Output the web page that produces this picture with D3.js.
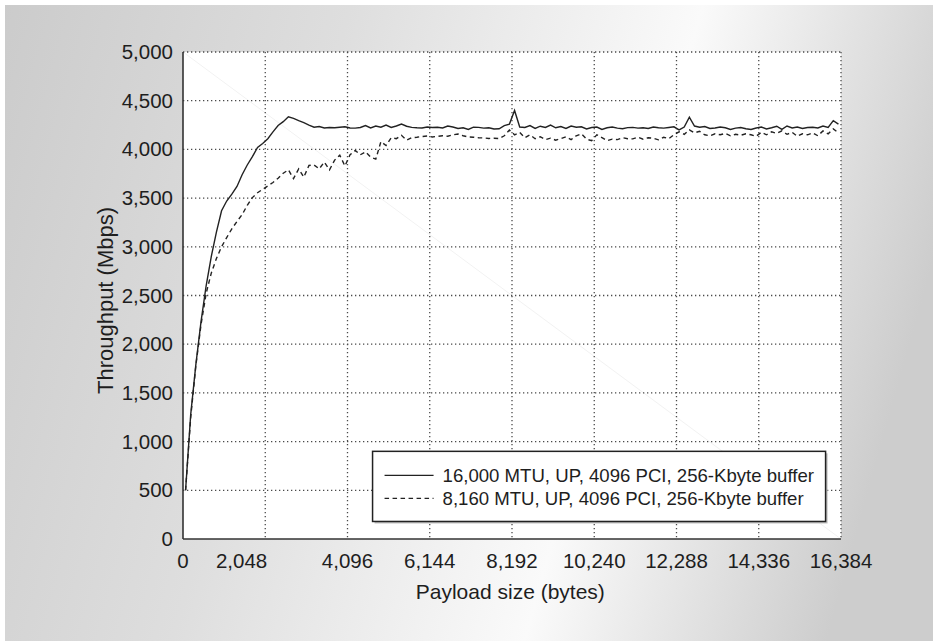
<!DOCTYPE html>
<html>
<head>
<meta charset="utf-8">
<script src="https://cdn.jsdelivr.net/npm/d3@7"></script>
<style>
    html, body { margin: 0; padding: 0; background: #fff; }
    #chart-area { width: 933px; height: 641px; }
    text { font-family: "Liberation Sans", Arial, sans-serif; fill: #1e1e1e; }
</style>
</head>
<body>
<div id="chart-area"></div>
<script>

// payload sizes (bytes) sampled every 128 bytes
let payload = d3.range(64, 16385, 128);

// 16,000 MTU series (Mbps)
let mtu16000 = [500, 1280, 1790, 2230, 2600, 2900, 3150, 3370, 3470, 3540,
    3620, 3740, 3840, 3925, 4020, 4060, 4110, 4180, 4245, 4285,
    4335, 4318, 4295, 4275, 4250, 4228, 4235, 4220, 4225, 4222,
    4228, 4232, 4220, 4218, 4225, 4245, 4220, 4240, 4228, 4250,
    4225, 4240, 4260, 4238, 4226, 4222, 4220, 4230, 4225, 4228,
    4220, 4240, 4230, 4215, 4222, 4205, 4228, 4226, 4218, 4222,
    4210, 4212, 4245, 4260, 4400, 4230, 4225, 4245, 4215, 4238,
    4225, 4250, 4222, 4235, 4215, 4240, 4228, 4232, 4210, 4225,
    4230, 4205, 4222, 4230, 4218, 4212, 4224, 4226, 4218, 4222,
    4215, 4230, 4222, 4218, 4225, 4232, 4200, 4230, 4330, 4240,
    4228, 4235, 4215, 4220, 4230, 4222, 4205, 4218, 4225, 4212,
    4205, 4220, 4230, 4210, 4222, 4238, 4205, 4240, 4220, 4230,
    4215, 4225, 4228, 4220, 4240, 4225, 4295, 4260];

// 8,160 MTU series (Mbps)
let mtu8160 = [500, 1250, 1780, 2200, 2520, 2730, 2880, 3000, 3095, 3185,
    3260, 3330, 3425, 3505, 3555, 3590, 3625, 3660, 3704, 3755,
    3790, 3700, 3800, 3715, 3835, 3840, 3800, 3870, 3790, 3890,
    3940, 3830, 3945, 3990, 3945, 3975, 3920, 3900, 4080, 4040,
    4120, 4110, 4145, 4095, 4120, 4125, 4132, 4137, 4128, 4134,
    4140, 4135, 4150, 4158, 4140, 4128, 4125, 4120, 4118, 4112,
    4115, 4112, 4140, 4200, 4150, 4175, 4120, 4150, 4110, 4130,
    4100, 4115, 4095, 4110, 4130, 4100, 4140, 4160, 4105, 4090,
    4150, 4120, 4090, 4105, 4100, 4120, 4110, 4108, 4125, 4105,
    4120, 4115, 4098, 4125, 4110, 4150, 4180, 4155, 4200, 4170,
    4185, 4150, 4140, 4160, 4150, 4165, 4140, 4155, 4145, 4160,
    4150, 4135, 4175, 4150, 4180, 4165, 4190, 4155, 4175, 4135,
    4160, 4150, 4170, 4140, 4190, 4160, 4210, 4170];

let seriesNames = ["16,000 MTU, UP, 4096 PCI, 256-Kbyte buffer",
    "8,160 MTU, UP, 4096 PCI, 256-Kbyte buffer"];

let xTicks = [0, 2048, 4096, 6144, 8192, 10240, 12288, 14336, 16384];
// where each x tick label sits (the 2,048 label is printed left of its gridline)
let xTickLabelAt = [0, 1460, 4096, 6144, 8192, 10240, 12288, 14336, 16384];
let yTicks = [0, 500, 1000, 1500, 2000, 2500, 3000, 3500, 4000, 4500, 5000];


class ThroughputVis {

    constructor(parentElement) {
        this.parentElement = parentElement;
        this.initVis();
    }

    initVis() {
        let vis = this;

        vis.W = 933;
        vis.H = 641;
        vis.margin = {top: 52, right: 92, bottom: 102, left: 183};
        vis.width = vis.W - vis.margin.left - vis.margin.right;
        vis.height = vis.H - vis.margin.top - vis.margin.bottom;

        vis.svg = d3.select("#" + vis.parentElement).append("svg")
            .attr("width", vis.W)
            .attr("height", vis.H);

        // grey background gradient
        let grad = vis.svg.append("defs").append("linearGradient")
            .attr("id", "bgGrad")
            .attr("gradientUnits", "userSpaceOnUse")
            .attr("x1", 0).attr("y1", 0)
            .attr("x2", 933).attr("y2", 262);
        grad.append("stop").attr("offset", 0).attr("stop-color", "#cbcbcb");
        grad.append("stop").attr("offset", 0.35).attr("stop-color", "#dedede");
        grad.append("stop").attr("offset", 0.7).attr("stop-color", "#fafafa");
        grad.append("stop").attr("offset", 1).attr("stop-color", "#cdcdcd");

        vis.svg.append("rect")
            .attr("x", 5).attr("y", 5)
            .attr("width", vis.W - 5).attr("height", vis.H - 5)
            .attr("fill", "url(#bgGrad)");

        vis.g = vis.svg.append("g")
            .attr("transform", `translate(${vis.margin.left}, ${vis.margin.top})`);

        vis.g.append("rect")
            .attr("width", vis.width)
            .attr("height", vis.height)
            .attr("fill", "#fff");

        vis.xScale = d3.scaleLinear().domain([0, 16384]).range([0, vis.width]);
        vis.yScale = d3.scaleLinear().domain([0, 5000]).range([vis.height, 0]);

        vis.updateVis();
    }

    updateVis() {
        let vis = this;

        // faint diagonal streak across the plot
        vis.g.append("line")
            .attr("x1", vis.xScale(0)).attr("y1", vis.yScale(5000))
            .attr("x2", vis.xScale(16384)).attr("y2", vis.yScale(0))
            .attr("stroke", "#f2f2f2")
            .attr("stroke-width", 1);

        // dotted grid
        vis.g.selectAll(".hgrid")
            .data(yTicks.slice(1))
            .enter().append("line")
            .attr("class", "hgrid")
            .attr("x1", 0).attr("x2", vis.width)
            .attr("y1", d => vis.yScale(d)).attr("y2", d => vis.yScale(d))
            .attr("stroke", "#4a4a4a")
            .attr("stroke-width", 1.3)
            .attr("stroke-dasharray", "1.3,2.7");

        vis.g.selectAll(".vgrid")
            .data(xTicks.slice(1))
            .enter().append("line")
            .attr("class", "vgrid")
            .attr("y1", 0).attr("y2", vis.height)
            .attr("x1", d => vis.xScale(d)).attr("x2", d => vis.xScale(d))
            .attr("stroke", "#4a4a4a")
            .attr("stroke-width", 1.3)
            .attr("stroke-dasharray", "1.3,2.7");

        // lines
        let line = d3.line()
            .x((d, i) => vis.xScale(payload[i]))
            .y(d => vis.yScale(d));

        vis.g.append("path")
            .datum(mtu8160)
            .attr("d", line)
            .attr("fill", "none")
            .attr("stroke", "#222")
            .attr("stroke-width", 1.4)
            .attr("stroke-dasharray", "4.5,3.5");

        vis.g.append("path")
            .datum(mtu16000)
            .attr("d", line)
            .attr("fill", "none")
            .attr("stroke", "#222")
            .attr("stroke-width", 1.4);

        // axes (left and bottom solid)
        vis.yAxis = d3.axisLeft(vis.yScale)
            .tickValues(yTicks)
            .tickSize(0)
            .tickPadding(10)
            .tickFormat(d3.format(","));

        vis.g.append("g")
            .attr("class", "y-axis axis")
            .call(vis.yAxis)
            .call(g => g.selectAll("text").style("font-size", "20.5px").attr("fill", "#1e1e1e"));

        vis.g.selectAll(".xlab")
            .data(xTicks)
            .enter().append("text")
            .attr("class", "xlab")
            .attr("x", (d, i) => vis.xScale(xTickLabelAt[i]))
            .attr("y", vis.height + 29)
            .attr("text-anchor", "middle")
            .style("font-size", "20.5px")
            .text(d => d3.format(",")(d));

        vis.g.selectAll(".domain").remove();

        vis.g.append("line")
            .attr("x1", 0).attr("x2", 0)
            .attr("y1", 0).attr("y2", vis.height)
            .attr("stroke", "#333").attr("stroke-width", 1.6);
        vis.g.append("line")
            .attr("x1", 0).attr("x2", vis.width)
            .attr("y1", vis.height).attr("y2", vis.height)
            .attr("stroke", "#333").attr("stroke-width", 1.6);

        // axis titles
        vis.g.append("text")
            .attr("x", vis.xScale(8150))
            .attr("y", vis.height + 60)
            .attr("text-anchor", "middle")
            .style("font-size", "21px")
            .text("Payload size (bytes)");

        vis.g.append("text")
            .attr("transform", `translate(-70, ${vis.height / 2 + 5}) rotate(-90)`)
            .attr("text-anchor", "middle")
            .style("font-size", "22px")
            .text("Throughput (Mbps)");

        // legend
        let lx = vis.xScale(4720), ly = vis.yScale(900);
        let lw = vis.xScale(16000) - lx, lh = vis.yScale(180) - ly;
        let legend = vis.g.append("g").attr("class", "legend");

        legend.append("rect")
            .attr("x", lx + 2).attr("y", ly + 2)
            .attr("width", lw).attr("height", lh)
            .attr("fill", "#bdbdbd");
        legend.append("rect")
            .attr("x", lx).attr("y", ly)
            .attr("width", lw).attr("height", lh)
            .attr("fill", "#fff")
            .attr("stroke", "#222")
            .attr("stroke-width", 1.5);

        let rows = legend.selectAll(".lrow")
            .data(seriesNames)
            .enter().append("g")
            .attr("class", "lrow")
            .attr("transform", (d, i) => `translate(${lx + 12}, ${ly + 24 + i * 23})`);

        rows.append("line")
            .attr("x1", 0).attr("x2", 49)
            .attr("stroke", "#222")
            .attr("stroke-width", 1.4)
            .attr("stroke-dasharray", (d, i) => i === 0 ? null : "4.5,3.5");

        rows.append("text")
            .attr("x", 58)
            .attr("dy", "0.36em")
            .style("font-size", "18.6px")
            .text(d => d);
    }
}

new ThroughputVis("chart-area");
</script>
</body>
</html>
